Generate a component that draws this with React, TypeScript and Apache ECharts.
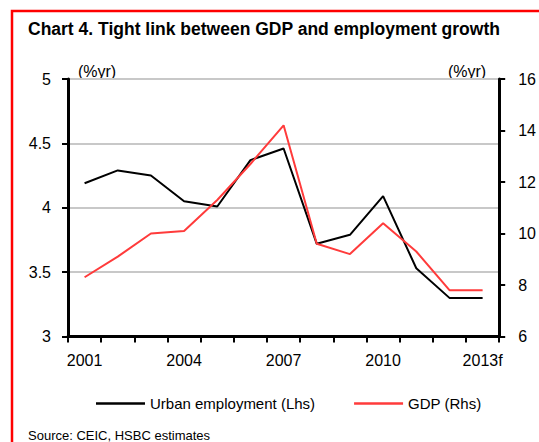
import React, { useEffect, useRef } from "react";
import * as echarts from "echarts";

const years = ["2001", "2002", "2003", "2004", "2005", "2006", "2007", "2008", "2009", "2010", "2011", "2012", "2013f"];
const urbanEmployment = [4.19, 4.29, 4.25, 4.05, 4.01, 4.37, 4.46, 3.72, 3.79, 4.09, 3.53, 3.3, 3.3];
const gdp = [8.3, 9.1, 10.0, 10.1, 11.3, 12.7, 14.2, 9.6, 9.2, 10.4, 9.3, 7.8, 7.8];
const leftTicks = { min: 3, max: 5, interval: 0.5 };
const rightTicks = { min: 6, max: 16, interval: 2 };

const FONT = "'Liberation Sans', Arial, Helvetica, sans-serif";

export default function App() {
  const ref = useRef<HTMLDivElement>(null);
  useEffect(() => {
    if (!ref.current) return;
    const chart = echarts.init(ref.current, undefined, { renderer: "svg" });
    chart.setOption({
      animation: false,
      backgroundColor: "#ffffff",
      textStyle: { fontFamily: FONT, color: "#000" },
      graphic: [
        {
          type: "rect",
          shape: { x: 12, y: 11, width: 700, height: 600 },
          style: { fill: "none", stroke: "#ff0000", lineWidth: 2.5 },
          silent: true,
        },
        {
          type: "text",
          x: 28,
          y: 29,
          style: {
            text: "Chart 4. Tight link between GDP and employment growth",
            font: `bold 17.5px ${FONT}`,
            fill: "#000",
            verticalAlign: "middle",
            textAlign: "left",
          },
        },
        {
          type: "text",
          x: 97,
          y: 71,
          style: { text: "(%yr)", font: `16px ${FONT}`, fill: "#000", textAlign: "center", verticalAlign: "middle" },
        },
        {
          type: "text",
          x: 467,
          y: 71,
          style: { text: "(%yr)", font: `16px ${FONT}`, fill: "#000", textAlign: "center", verticalAlign: "middle" },
        },
        {
          type: "text",
          x: 28,
          y: 435,
          style: { text: "Source: CEIC, HSBC estimates", font: `13px ${FONT}`, fill: "#000", textAlign: "left", verticalAlign: "middle" },
        },
      ],
      grid: { left: 68, right: 38, top: 79, bottom: 105.5, containLabel: false },
      legend: {
        left: 91,
        top: 391,
        icon: "rect",
        itemWidth: 49,
        itemHeight: 2.5,
        itemGap: 39,
        textStyle: { fontFamily: FONT, fontSize: 15, color: "#000" },
        data: ["Urban employment (Lhs)", "GDP (Rhs)"],
      },
      xAxis: {
        type: "category",
        data: years,
        boundaryGap: true,
        axisLine: { show: true, lineStyle: { color: "#000", width: 3 } },
        axisTick: { show: true, inside: false, length: 6, interval: 0, lineStyle: { color: "#000", width: 2 } },
        axisLabel: { interval: 2, margin: 16, fontSize: 16, fontFamily: FONT, color: "#000" },
        splitLine: { show: false },
      },
      yAxis: [
        {
          type: "value",
          position: "left",
          min: leftTicks.min,
          max: leftTicks.max,
          interval: leftTicks.interval,
          axisLine: { show: true, lineStyle: { color: "#000", width: 3 } },
          axisTick: { show: true, inside: false, length: 6, lineStyle: { color: "#000", width: 2 } },
          axisLabel: { margin: 17, fontSize: 16, fontFamily: FONT, color: "#000" },
          splitLine: { show: true, lineStyle: { color: "#c8c8c8", width: 2 } },
        },
        {
          type: "value",
          position: "right",
          min: rightTicks.min,
          max: rightTicks.max,
          interval: rightTicks.interval,
          axisLine: { show: true, lineStyle: { color: "#000", width: 3 } },
          axisTick: { show: true, inside: false, length: 6, lineStyle: { color: "#000", width: 2 } },
          axisLabel: { margin: 19, fontSize: 16, fontFamily: FONT, color: "#000" },
          splitLine: { show: false },
        },
      ],
      series: [
        {
          name: "Urban employment (Lhs)",
          type: "line",
          yAxisIndex: 0,
          data: urbanEmployment,
          symbol: "none",
          lineStyle: { color: "#000000", width: 2 },
          itemStyle: { color: "#000000" },
          z: 2,
        },
        {
          name: "GDP (Rhs)",
          type: "line",
          yAxisIndex: 1,
          data: gdp,
          symbol: "none",
          lineStyle: { color: "#ff3b3b", width: 2 },
          itemStyle: { color: "#ff3b3b" },
          z: 3,
        },
      ],
    });
    return () => chart.dispose();
  }, []);
  return <div ref={ref} style={{ position: "absolute", left: 0, top: 0, width: 539, height: 442 }} />;
}
